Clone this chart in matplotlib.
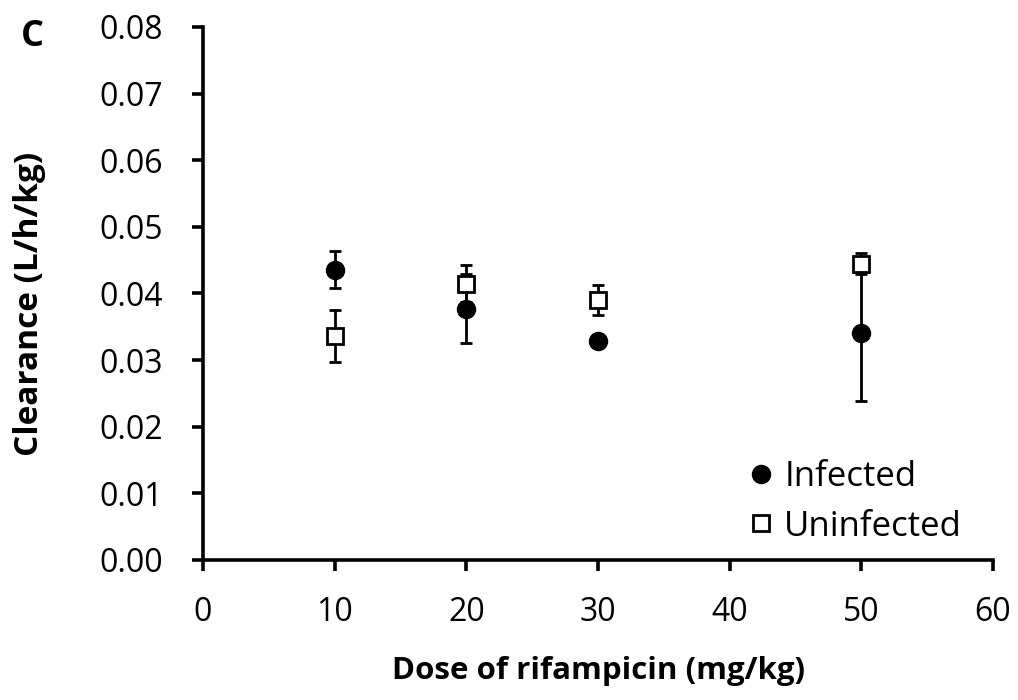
import matplotlib
matplotlib.use("Agg")
import matplotlib.pyplot as plt

dose = [10, 20, 30, 50]
infected = [0.0436, 0.0377, 0.0328, 0.0341]
infected_err = [0.0028, 0.0052, 0.0005, 0.0102]
uninfected = [0.0336, 0.0415, 0.0390, 0.0445]
uninfected_err = [0.0039, 0.0028, 0.0023, 0.0016]

xticks = [0, 10, 20, 30, 40, 50, 60]
yticks = [0.00, 0.01, 0.02, 0.03, 0.04, 0.05, 0.06, 0.07, 0.08]

plt.rcParams['font.family'] = ['Open Sans', 'DejaVu Sans']

W, H = 1018, 700
fig = plt.figure(figsize=(W / 100, H / 100), dpi=100)
ax = fig.add_axes([203 / W, 140 / H, 790 / W, 533 / H])

ax.errorbar(dose, infected, yerr=infected_err, fmt='o', color='black',
            markersize=13, ecolor='black', elinewidth=2, capsize=4, capthick=2,
            label='Infected', zorder=3)
ax.errorbar(dose, uninfected, yerr=uninfected_err, fmt='s', color='black',
            markerfacecolor='white', markeredgecolor='black', markeredgewidth=2,
            markersize=12, ecolor='black', elinewidth=2, capsize=4, capthick=2,
            label='Uninfected', zorder=4)

ax.set_xlim(0, 60)
ax.set_ylim(0, 0.08)
ax.set_xticks(xticks)
ax.set_yticks(yticks)
ax.set_yticklabels([f"{v:.2f}" for v in yticks])
ax.spines['top'].set_visible(False)
ax.spines['right'].set_visible(False)
for s in ['left', 'bottom']:
    ax.spines[s].set_linewidth(2.6)
ax.tick_params(axis='both', direction='out', length=8, width=2.6, labelsize=23)
ax.tick_params(axis='x', pad=18)
ax.tick_params(axis='y', pad=21)

ax.set_xlabel('Dose of rifampicin (mg/kg)', fontsize=22.5, fontweight='bold', va='center')
ax.xaxis.set_label_coords(0.5, (560 - 671) / 533)
ax.set_ylabel('Clearance (L/h/kg)', fontsize=24, fontweight='bold', va='center')
ax.yaxis.set_label_coords((30 - 203) / 790, 0.48)

handles, labels = ax.get_legend_handles_labels()
handles = [h[0] for h in handles]
fig.legend(handles, labels, loc='upper left', frameon=False, fontsize=25,
           handlelength=0.6, handletextpad=0.36, labelspacing=0.45,
           borderpad=0, borderaxespad=0,
           bbox_to_anchor=(751 / W, 1 - 460 / H))

fig.text(32 / W, 1 - 37 / H, 'C', fontsize=26, fontweight='bold', ha='center', va='center')

fig.savefig('out.png', dpi=100)
